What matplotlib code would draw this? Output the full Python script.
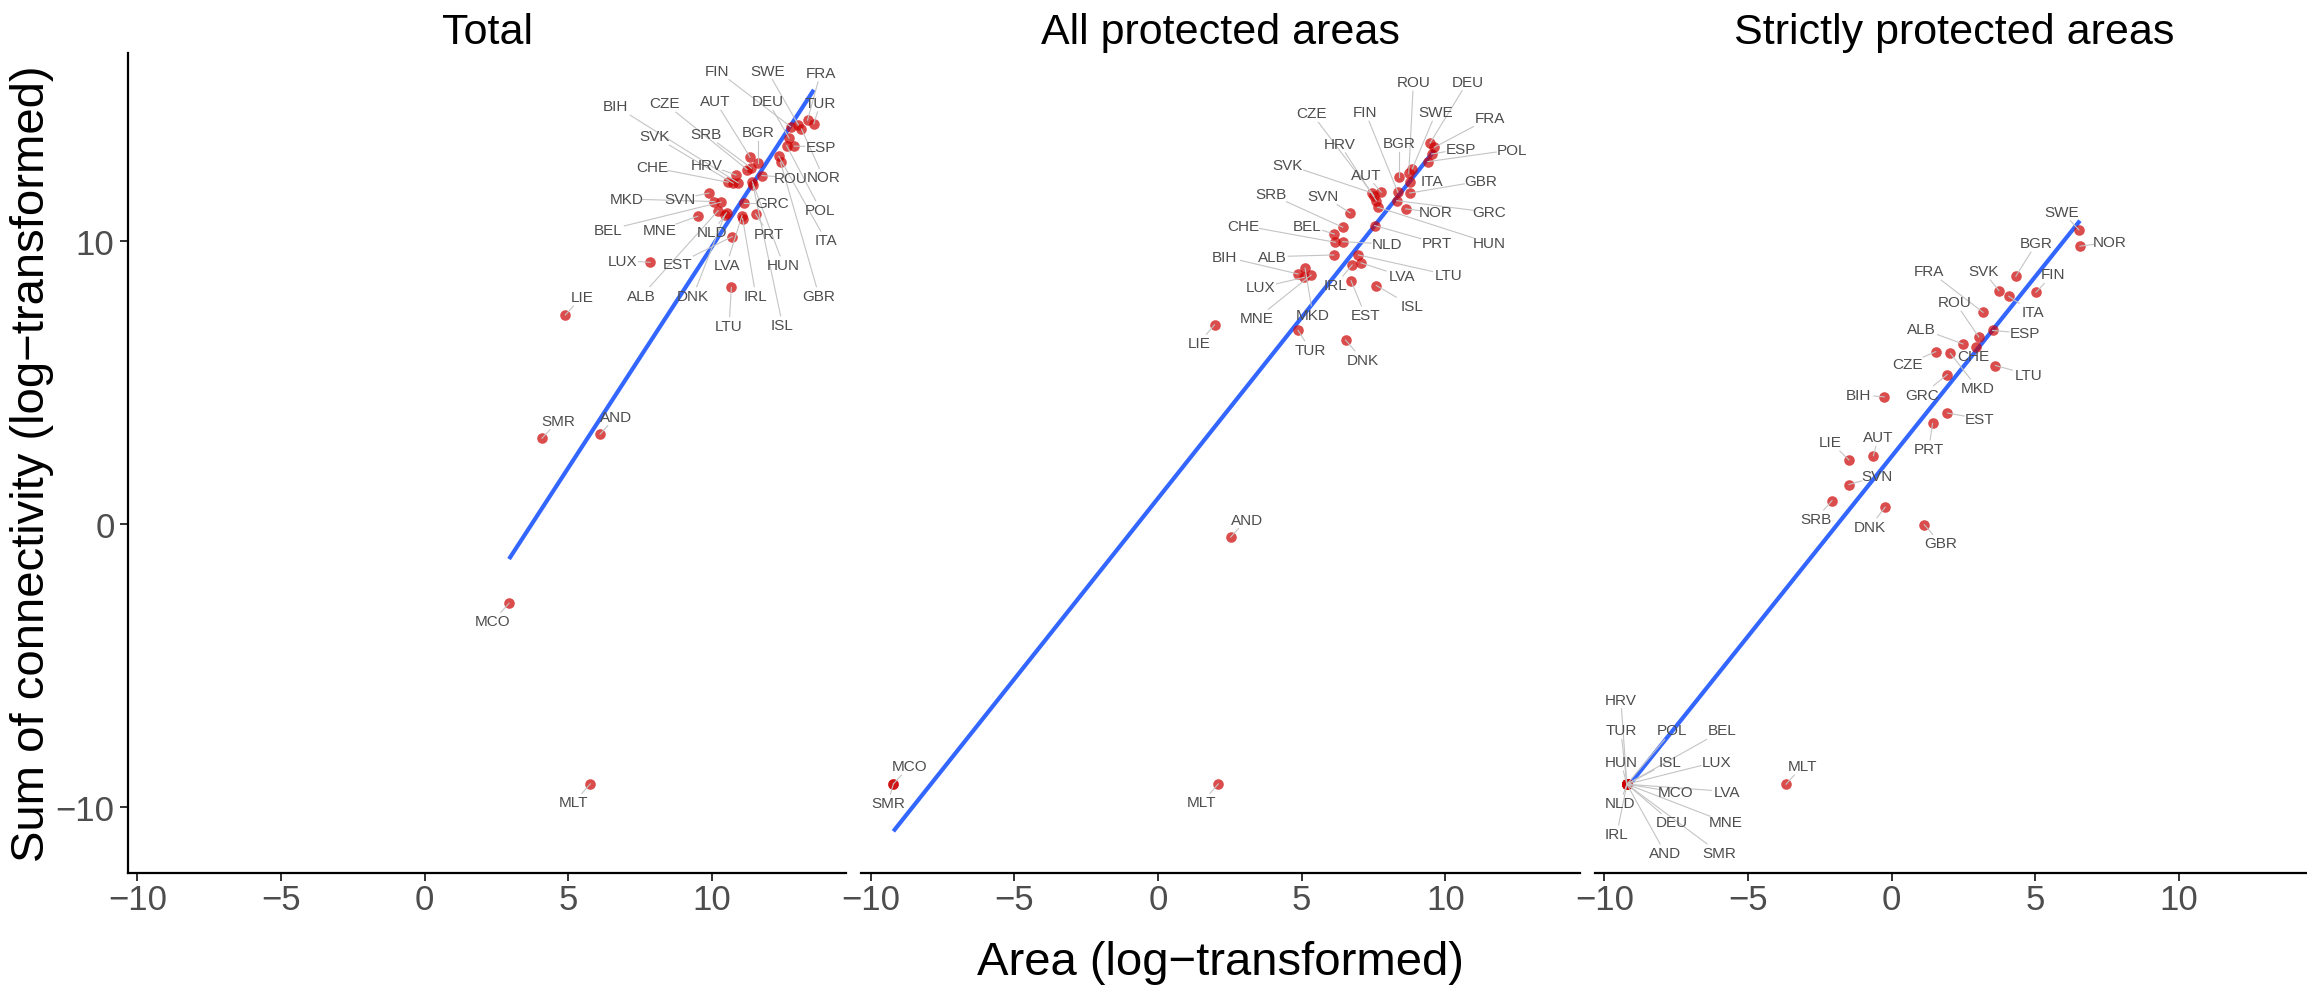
import numpy as np
import matplotlib.pyplot as plt

plt.rcParams['font.family'] = ['Liberation Sans', 'DejaVu Sans']

# country codes, same order in every panel
iso = ['FIN', 'SWE', 'FRA', 'BIH', 'CZE', 'AUT', 'DEU', 'TUR', 'SVK', 'SRB',
       'BGR', 'ESP', 'CHE', 'HRV', 'ROU', 'NOR', 'MKD', 'SVN', 'GRC', 'POL',
       'BEL', 'MNE', 'NLD', 'PRT', 'ITA', 'LUX', 'EST', 'LVA', 'HUN', 'ALB',
       'DNK', 'IRL', 'GBR', 'LTU', 'ISL', 'LIE', 'SMR', 'AND', 'MCO', 'MLT']

# Total
total_area = [12.74, 13.01, 13.33, 10.92, 11.23, 11.33, 12.69, 13.55, 10.74, 11.38,
              11.60, 12.87, 10.57, 10.84, 11.75, 13.12, 10.08, 9.90, 11.12, 12.60,
              10.32, 9.51, 10.51, 11.52, 12.33, 7.85, 10.71, 11.05, 11.41, 10.22,
              10.45, 11.07, 12.39, 10.68, 11.43, 4.90, 4.09, 6.11, 2.94, 5.77]
total_conn = [14.05, 14.11, 14.28, 12.06, 12.53, 12.97, 13.64, 14.16, 12.05, 12.58,
              12.75, 13.36, 12.08, 12.34, 12.32, 13.97, 11.40, 11.70, 11.35, 13.38,
              11.38, 10.88, 11.00, 10.96, 13.00, 9.25, 10.16, 10.90, 12.10, 11.08,
              10.92, 10.80, 12.79, 8.36, 11.99, 7.39, 3.03, 3.17, -2.81, -9.20]

# All protected areas
pa_area = [8.35, 8.85, 9.62, 4.87, 7.52, 7.77, 9.47, 4.88, 7.46, 6.43,
           8.38, 9.53, 6.17, 7.60, 8.73, 8.62, 5.12, 6.69, 8.31, 9.39,
           6.14, 5.33, 6.43, 7.54, 8.76, 5.10, 6.72, 7.07, 7.65, 6.12,
           6.53, 6.76, 8.76, 6.98, 7.60, 1.97, -9.21, 2.53, -9.21, 2.10]
pa_conn = [11.73, 12.55, 13.32, 8.84, 11.60, 11.73, 13.47, 6.84, 11.70, 10.49,
           12.26, 13.08, 9.96, 11.43, 12.40, 11.14, 9.04, 11.00, 11.43, 12.81,
           10.25, 8.80, 9.98, 10.55, 12.08, 8.72, 8.60, 9.23, 11.20, 9.51,
           6.50, 9.16, 11.70, 9.51, 8.43, 7.04, -9.20, -0.47, -9.20, -9.20]

# Strictly protected areas
spa_area = [5.02, 6.51, 3.18, -0.26, 1.53, -0.64, -9.22, -9.22, 3.73, -2.08,
            4.32, 3.51, 2.94, -9.22, 3.03, 6.55, 2.04, -1.49, 1.93, -9.22,
            -9.22, -9.22, -9.22, 1.42, 4.07, -9.22, 1.94, -9.22, -9.22, 2.48,
            -0.23, -9.22, 1.13, 3.61, -9.22, -1.49, -9.22, -9.22, -9.22, -3.68]
spa_conn = [8.19, 10.40, 7.48, 4.49, 6.09, 2.41, -9.21, -9.21, 8.25, 0.82,
            8.76, 6.84, 6.26, -9.21, 6.61, 9.82, 6.03, 1.39, 5.28, -9.21,
            -9.21, -9.21, -9.21, 3.55, 8.05, -9.21, 3.92, -9.21, -9.21, 6.36,
            0.59, -9.21, -0.03, 5.60, -9.21, 2.26, -9.21, -9.21, -9.21, -9.21]

# where the repelled labels sit (data units of each panel)
total_lab_x = [10.19, 11.93, 13.78, 6.66, 8.36, 10.12, 11.95, 13.78, 8.00, 9.78,
               11.60, 13.78, 7.92, 9.82, 12.76, 13.88, 7.03, 8.89, 12.10, 13.78,
               6.40, 8.19, 10.02, 11.99, 13.96, 6.90, 8.80, 10.51, 12.49, 7.56,
               9.35, 11.53, 13.73, 10.60, 12.46, 5.47, 4.66, 6.66, 2.37, 5.20]
total_lab_y = [16.03, 16.03, 15.95, 14.77, 14.88, 14.95, 14.95, 14.89, 13.71, 13.79,
               13.85, 13.34, 12.61, 12.71, 12.24, 12.26, 11.49, 11.49, 11.35, 11.11,
               10.40, 10.40, 10.31, 10.25, 10.04, 9.31, 9.19, 9.16, 9.16, 8.07,
               8.07, 8.07, 8.07, 7.01, 7.04, 8.02, 3.65, 3.79, -3.45, -9.85]
pa_lab_x = [7.22, 9.68, 11.54, 2.32, 5.35, 7.25, 10.78, 5.30, 4.52, 3.92,
            8.38, 10.55, 2.98, 6.32, 8.89, 9.66, 5.39, 5.74, 11.54, 12.33,
            5.18, 3.45, 7.97, 9.70, 9.54, 3.57, 7.21, 8.49, 11.54, 3.98,
            7.13, 6.18, 11.22, 10.11, 8.83, 1.42, -9.40, 3.09, -8.64, 1.53]
pa_lab_y = [14.56, 14.56, 14.35, 9.45, 14.52, 12.35, 15.64, 6.16, 12.70, 11.65,
            13.46, 13.26, 10.55, 13.44, 15.62, 11.02, 7.40, 11.61, 11.02, 13.23,
            10.55, 7.27, 9.90, 9.93, 12.14, 8.36, 7.39, 8.76, 9.93, 9.45,
            5.80, 8.45, 12.12, 8.80, 7.70, 6.39, -9.87, 0.15, -8.57, -9.85]
spa_lab_x = [5.60, 5.93, 1.31, -1.17, 0.54, -0.47, -7.66, -9.43, 3.18, -2.65,
             5.04, 4.63, 2.84, -9.43, 2.20, 7.59, 2.98, -0.50, 1.07, -7.64,
             -5.89, -5.77, -9.46, 1.29, 4.90, -6.09, 3.07, -5.72, -9.43, 1.04,
             -0.76, -9.57, 1.70, 4.75, -7.72, -2.13, -6.01, -7.89, -7.51, -3.11]
spa_lab_y = [8.82, 11.04, 8.94, 4.57, 5.65, 3.06, -10.56, -7.31, 8.94, 0.17,
             9.93, 6.74, 5.95, -6.22, 7.84, 9.96, 4.81, 1.68, 4.57, -7.31,
             -7.31, -10.56, -9.88, 2.65, 7.48, -8.41, 3.71, -9.47, -8.43, 6.90,
             -0.10, -10.97, -0.69, 5.28, -8.41, 2.89, -11.64, -11.64, -9.49, -8.57]

titles = ['Total', 'All protected areas', 'Strictly protected areas']

W, H = 2307, 995
fig = plt.figure(figsize=(W / 100, H / 100), dpi=100)

panel_left = [127.8, 861.2, 1595.0]
panel_w = 718.5
top, bottom = 54.4, 873.7
xlim = (-10.33, 14.68)
ylim = (-12.34, 16.64)

panels = [(total_area, total_conn, total_lab_x, total_lab_y),
          (pa_area, pa_conn, pa_lab_x, pa_lab_y),
          (spa_area, spa_conn, spa_lab_x, spa_lab_y)]

for i, (ax_x, ax_y, lx, ly) in enumerate(panels):
    ax = fig.add_axes([panel_left[i] / W, 1 - bottom / H, panel_w / W, (bottom - top) / H])
    ax.set_xlim(*xlim)
    ax.set_ylim(*ylim)
    ax.set_facecolor('none')
    x = np.array(ax_x)
    y = np.array(ax_y)

    # linear fit like geom_smooth(method = "lm")
    b, a = np.polyfit(x, y, 1)
    xx = np.array([x.min(), x.max()])
    ax.plot(xx, a + b * xx, color='#3366FF', lw=3.0, solid_capstyle='butt', zorder=2)

    ax.scatter(x, y, s=58, color='#CD0000', alpha=0.7, linewidths=0, zorder=3)

    # labels with segments to their points
    for name, px, py, tx, ty in zip(iso, x, y, lx, ly):
        ax.text(tx, ty, name, ha='center', va='center', fontsize=11,
                color='#4D4D4D', zorder=5)
        P = ax.transData.transform((px, py))
        T = ax.transData.transform((tx, ty))
        d = P - T
        hw = len(name) * 4.3 + 3
        hh = 9.0
        tx_ = hw / abs(d[0]) if d[0] != 0 else np.inf
        ty_ = hh / abs(d[1]) if d[1] != 0 else np.inf
        t = min(tx_, ty_)
        if t >= 1:
            continue
        start = T + t * d
        if np.hypot(*(P - start)) < 7:
            continue
        seg = ax.transData.inverted().transform(np.array([start, P]))
        ax.plot(seg[:, 0], seg[:, 1], color='#C4C4C4', lw=0.8, zorder=4)

    for s in ['top', 'right']:
        ax.spines[s].set_visible(False)
    ax.spines['bottom'].set_linewidth(1.6)
    ax.spines['left'].set_linewidth(1.6)
    ax.set_xticks([-10, -5, 0, 5, 10])
    ax.set_xticklabels(['\u221210', '\u22125', '0', '5', '10'])
    ax.tick_params(axis='x', length=5.5, width=1.4, color='#333333',
                   labelsize=25, labelcolor='#4D4D4D', pad=2)
    if i == 0:
        ax.set_yticks([-10, 0, 10])
        ax.set_yticklabels(['\u221210', '0', '10'])
        ax.tick_params(axis='y', length=5.5, width=1.4, color='#333333',
                       labelsize=25, labelcolor='#4D4D4D', pad=4)
    else:
        ax.spines['left'].set_visible(False)
        ax.set_yticks([])

    fig.text((panel_left[i] + panel_w / 2) / W, 1 - 44 / H, titles[i],
             ha='center', va='baseline', fontsize=31, color='black')

fig.text(1220 / W, 1 - 963 / H, 'Area (log\u2212transformed)', ha='center', va='center',
         fontsize=34, color='black')
fig.text(32 / W, 1 - 464 / H, 'Sum of connectivity (log\u2212transformed)', ha='center',
         va='center', rotation=90, fontsize=34, color='black')

fig.savefig('out.png', dpi=100)
